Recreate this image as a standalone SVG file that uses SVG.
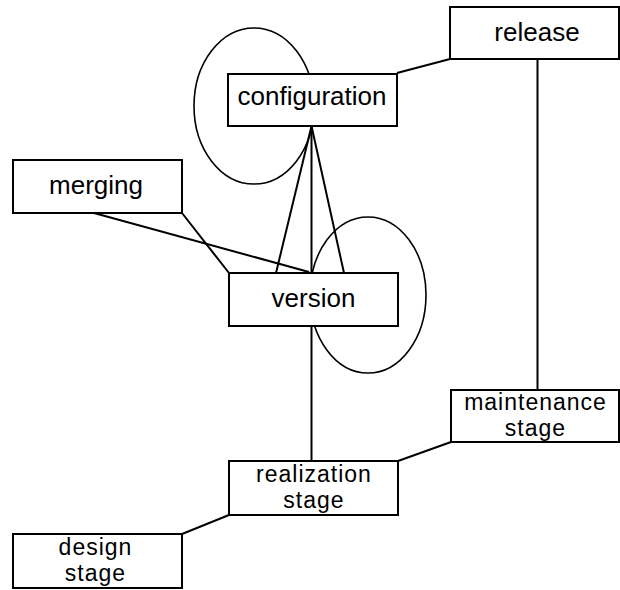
<svg xmlns="http://www.w3.org/2000/svg" width="620" height="590" viewBox="0 0 620 590">
<style>
.box{fill:#fff;stroke:#000;stroke-width:2}
.ln{fill:none;stroke:#000;stroke-width:2}
.lp{fill:none;stroke:#000;stroke-width:1.6}
text{font-family:"Liberation Sans",Arial,sans-serif;font-size:26px;fill:#000;text-anchor:middle}
text.two{font-size:23px;letter-spacing:1px}
</style>
<rect x="0" y="0" width="620" height="590" fill="#fff"/>
<g id="connectors">
<ellipse class="lp" cx="254" cy="106" rx="60" ry="78"/>
<ellipse class="lp" cx="368" cy="295" rx="58" ry="78"/>
<line class="ln" x1="397" y1="73" x2="450" y2="59"/>
<line class="ln" x1="537.5" y1="59" x2="537.5" y2="390"/>
<line class="ln" x1="311.5" y1="126" x2="276" y2="273"/>
<line class="ln" x1="311.5" y1="126" x2="311.5" y2="273"/>
<line class="ln" x1="311.5" y1="126" x2="344" y2="273"/>
<line class="ln" x1="182" y1="213" x2="229" y2="273"/>
<line class="ln" x1="94" y1="213" x2="309" y2="272"/>
<line class="ln" x1="311.5" y1="326" x2="311.5" y2="461"/>
<line class="ln" x1="398" y1="461" x2="451" y2="442"/>
<line class="ln" x1="182" y1="534" x2="229" y2="515"/>
</g>
<g id="release">
<rect class="box" x="450" y="7" width="169" height="52"/>
<text x="537" y="41">release</text>
</g>
<g id="configuration">
<rect class="box" x="228" y="74" width="169" height="52"/>
<text x="312" y="105">configuration</text>
</g>
<g id="merging">
<rect class="box" x="13" y="160" width="169" height="53"/>
<text x="96" y="194">merging</text>
</g>
<g id="version">
<rect class="box" x="229" y="273" width="169" height="53"/>
<text x="313.5" y="307">version</text>
</g>
<g id="maintenance">
<rect class="box" x="451" y="390" width="168" height="52"/>
<text class="two" x="535.5" y="410">maintenance</text>
<text class="two" x="535.5" y="436">stage</text>
</g>
<g id="realization">
<rect class="box" x="229" y="461" width="169" height="54"/>
<text class="two" x="314" y="482">realization</text>
<text class="two" x="314" y="508">stage</text>
</g>
<g id="design">
<rect class="box" x="13" y="534" width="169" height="54"/>
<text class="two" x="95.5" y="555">design</text>
<text class="two" x="95.5" y="581">stage</text>
</g>
</svg>
